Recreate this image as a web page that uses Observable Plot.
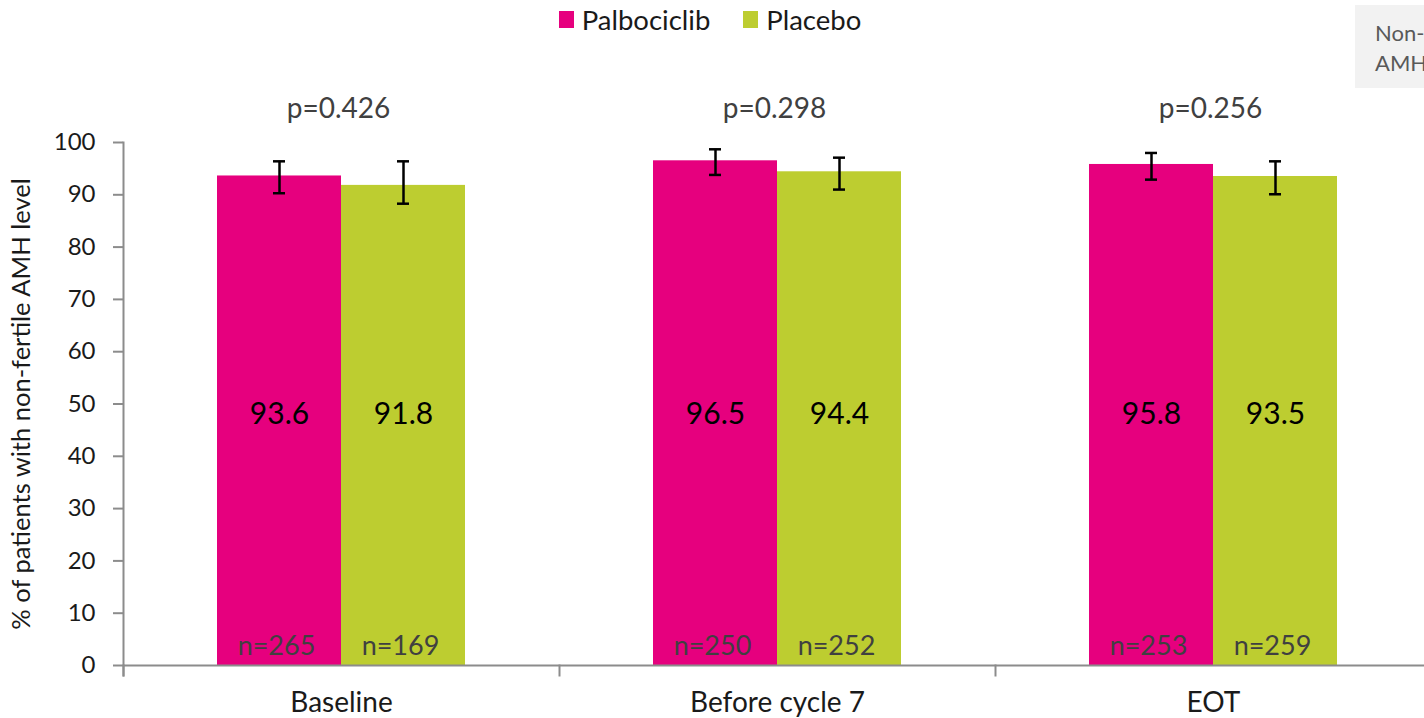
<!DOCTYPE html>
<html>
<head>
<meta charset="utf-8">
<script src="https://cdn.jsdelivr.net/npm/d3@7"></script>
<script src="https://cdn.jsdelivr.net/npm/@observablehq/plot@0.6"></script>
<style>
  html, body { margin: 0; padding: 0; background: #fff; overflow: hidden; }
  body { width: 1424px; height: 718px; position: relative; font-family: Lato, "Open Sans", sans-serif; }
  #legend { height: 38px; padding-top: 0; display: flex; justify-content: center; align-items: center; gap: 33px; font-size: 27.5px; color: #1a1a1a; padding-right: 4px; }
  #legend .item { display: flex; align-items: center; gap: 8px; }
  #legend .sw { width: 15px; height: 17px; display: inline-block; }
  #chart svg { max-width: none !important; }
  #note { position: absolute; left: 1355px; top: 5px; width: 200px; height: 83px; background: #f2f2f2; color: #595959; font-size: 22px; line-height: 30px; padding: 13px 0 0 20px; box-sizing: border-box; white-space: nowrap; }
</style>
</head>
<body>
<div id="legend"></div>
<div id="chart"></div>
<div id="note">Non-fertile<br>AMH level</div>
<script>
const categories = ["Baseline", "Before cycle 7", "EOT"];
const series = ["Palbociclib", "Placebo"];
const colors = ["#e6007e", "#bdcd30"];
const palboValues = [93.6, 96.5, 95.8];
const placeboValues = [91.8, 94.4, 93.5];
const palboLow = [90.3, 93.8, 92.9];
const palboHigh = [96.4, 98.7, 98.0];
const placeboLow = [88.3, 91.0, 90.1];
const placeboHigh = [96.4, 97.1, 96.4];
const palboN = [265, 250, 253];
const placeboN = [169, 252, 259];
const pValues = ["p=0.426", "p=0.298", "p=0.256"];
const yTicks = [0, 10, 20, 30, 40, 50, 60, 70, 80, 90, 100];
const yTitle = "% of patients with non-fertile AMH level";

const rows = [];
categories.forEach((c, i) => {
  rows.push({category: c, series: series[0], value: palboValues[i], low: palboLow[i], high: palboHigh[i], n: palboN[i]});
  rows.push({category: c, series: series[1], value: placeboValues[i], low: placeboLow[i], high: placeboHigh[i], n: placeboN[i]});
});
const pRows = categories.map((c, i) => ({category: c, p: pValues[i]}));

// legend
const legend = document.getElementById("legend");
series.forEach((s, i) => {
  const item = document.createElement("div");
  item.className = "item";
  item.innerHTML = `<span class="sw" style="background:${colors[i]}"></span><span>${s}</span>`;
  legend.appendChild(item);
});

const grey = "#8c8c8c";
const W = 1440, H = 680, mT = 104, mB = 53, mL = 122, mR = 8;

const chart = Plot.plot({
  width: W,
  height: H,
  marginTop: mT,
  marginBottom: mB,
  marginLeft: mL,
  marginRight: mR,
  style: {fontFamily: "Lato, 'Open Sans', sans-serif", background: "transparent", overflow: "visible", maxWidth: "none"},
  fx: {domain: categories, padding: 0, label: null},
  x: {domain: series, paddingInner: 0, paddingOuter: 0.75, axis: null},
  y: {domain: [0, 100], label: null},
  color: {domain: series, range: colors},
  marks: [
    Plot.barY(rows, {fx: "category", x: "series", y: "value", fill: "series"}),
    Plot.ruleY([0], {stroke: grey, strokeWidth: 2}),
    Plot.frame({anchor: "left", facetAnchor: "left", stroke: grey, strokeWidth: 2, insetBottom: -10}),
    Plot.frame({anchor: "left", stroke: grey, strokeWidth: 2, insetTop: H - mT - mB, insetBottom: -10}),
    Plot.axisY({ticks: yTicks, tickSize: 10, tickPadding: 18, fontSize: 24, stroke: grey, strokeWidth: 2, color: "#1a1a1a", label: null}),
    Plot.axisY({ticks: [], label: yTitle, labelAnchor: "center", labelArrow: "none", labelOffset: 112, fontSize: 25.5, color: "#1a1a1a"}),
    Plot.axisFx({anchor: "bottom", tickSize: 0, tickPadding: 27, fontSize: 28, color: "#1a1a1a", label: null}),
    Plot.ruleX(rows, {fx: "category", x: "series", y1: "low", y2: "high", stroke: "#000", strokeWidth: 2.5}),
    Plot.tickY(rows, {fx: "category", x: "series", y: "low", stroke: "#000", strokeWidth: 2.5, insetLeft: 56, insetRight: 56}),
    Plot.tickY(rows, {fx: "category", x: "series", y: "high", stroke: "#000", strokeWidth: 2.5, insetLeft: 56, insetRight: 56}),
    Plot.text(rows, {fx: "category", x: "series", frameAnchor: "middle", text: d => d.value.toFixed(1), fontSize: 30, fill: "#000", lineAnchor: "middle", dy: 10}),
    Plot.text(rows, {fx: "category", x: "series", frameAnchor: "bottom", text: d => "n=" + d.n, fontSize: 27, fill: "#404040", lineAnchor: "middle", dy: -19, dx: -3}),
    Plot.text(pRows, {fx: "category", frameAnchor: "top", text: "p", fontSize: 28, fill: "#404040", lineAnchor: "middle", dy: -33, dx: -3})
  ]
});
document.getElementById("chart").appendChild(chart);
</script>
</body>
</html>
